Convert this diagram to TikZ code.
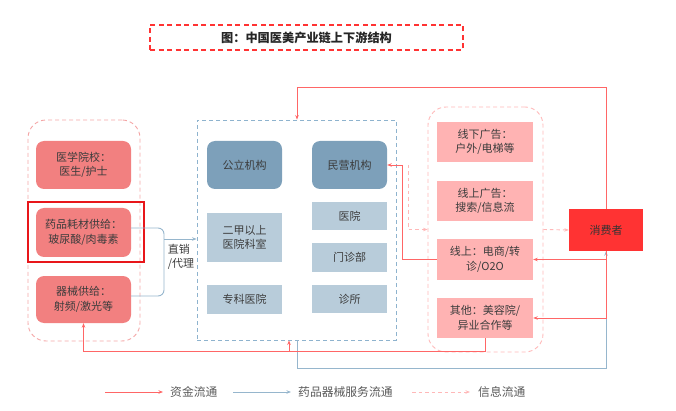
\documentclass[tikz,border=0pt]{standalone}
\usepackage{fontspec}
\setmainfont{Noto Sans CJK SC}
\usetikzlibrary{arrows.meta,calc}
\definecolor{lred}{RGB}{242,128,128}
\definecolor{lgrp}{RGB}{244,166,166}
\definecolor{hired}{RGB}{232,22,26}
\definecolor{dblue}{RGB}{125,160,186}
\definecolor{lblue}{RGB}{184,204,218}
\definecolor{bgrp}{RGB}{142,179,206}
\definecolor{rpink}{RGB}{255,179,179}
\definecolor{cons}{RGB}{255,51,51}
\definecolor{mline}{RGB}{255,102,102}
\definecolor{sline}{RGB}{150,182,205}
\definecolor{iline}{RGB}{255,184,184}
\definecolor{txt}{RGB}{60,60,60}
\definecolor{titred}{RGB}{255,51,51}
\begin{document}
\begin{tikzpicture}[x=1pt,y=-1pt,
  boxtxt/.style={font=\fontsize{11}{14.5}\selectfont, text=txt, align=center, inner sep=0pt},
  lbox/.style={boxtxt, fill=lred, rounded corners=8pt, minimum width=95pt},
  dbbox/.style={boxtxt, fill=dblue, rounded corners=8pt, minimum width=75pt, minimum height=48pt},
  lbbox/.style={boxtxt, fill=lblue, minimum width=75pt},
  rbox/.style={boxtxt, fill=rpink, minimum width=96pt},
  grp/.style={dashed, dash pattern=on 4pt off 3pt, line width=0.9pt, inner sep=0pt},
  tip/.style={-{Stealth[length=4.5pt,width=3.5pt]}},
  money/.style={draw=mline, line width=0.9pt},
  serv/.style={draw=sline, line width=0.9pt},
  info/.style={draw=iline, line width=0.9pt, dashed, dash pattern=on 3.5pt off 3pt},
  lgtxt/.style={font=\fontsize{11.8}{13}\selectfont, text=txt!85, anchor=west, inner sep=0pt}
]
\useasboundingbox (0,0) rectangle (676,411);

% title
\node[draw=titred, dashed, dash pattern=on 5pt off 3.5pt, line width=1.4pt, minimum width=313pt, minimum height=25pt, inner sep=0pt] (titlebox) at (306.5,37.5) {};
\node[font=\fontsize{12.2}{14}\selectfont\bfseries, text=black!85] (title) at (titlebox.center) {图：中国医美产业链上下游结构};

% left group
\node[grp, draw=lgrp, rounded corners=18pt, minimum width=112pt, minimum height=221pt] (lgroup) at (84,230.5) {};
\node[lbox, minimum height=48pt] (b1) at (83.5,165) {医学院校：\\医生/护士};
\node[lbox, minimum height=49pt] (b2) at (83.5,232.5) {药品耗材供给：\\玻尿酸/肉毒素};
\node[lbox, minimum height=47pt] (b3) at (83.5,299.5) {器械供给：\\射频/激光等};
\node[draw=hired, line width=2pt, minimum width=116pt, minimum height=60pt, inner sep=0pt] (hl) at (86,232) {};

% blue group
\node[grp, draw=bgrp, minimum width=199pt, minimum height=220pt] (bgroup) at (296.5,230) {};
\node[dbbox] (gongli) at (244.5,165) {公立机构};
\node[dbbox] (minying) at (349.5,165) {民营机构};
\node[lbbox, minimum height=49pt] (erjia) at (244.5,237.5) {二甲以上\\医院科室};
\node[lbbox, minimum height=29pt] (zhuanke) at (244.5,299.5) {专科医院};
\node[lbbox, minimum height=28pt] (yiyuan) at (349.5,216) {医院};
\node[lbbox, minimum height=29pt] (menzhen) at (349.5,257.5) {门诊部};
\node[lbbox, minimum height=28pt] (zhensuo) at (349.5,299) {诊所};

% right group
\node[grp, draw=iline, rounded corners=18pt, minimum width=115pt, minimum height=245pt] (rgroup) at (485.5,229.5) {};
\node[rbox, minimum height=40pt] (r1) at (485,142) {线下广告：\\户外/电梯等};
\node[rbox, minimum height=40pt] (r2) at (485,201) {线上广告：\\搜索/信息流};
\node[rbox, minimum height=41pt] (r3) at (485,259.5) {线上：电商/转\\诊/O2O};
\node[rbox, minimum height=40pt] (r4) at (485,318) {其他：美容院/\\异业合作等};

% consumer
\node[boxtxt, fill=cons, minimum width=74pt, minimum height=42pt, text=black!80] (consumer) at (606,230) {消费者};

% coordinates
\coordinate (topc) at (297,87);
\coordinate (j1) at (402,165);
\coordinate (j2) at (408,165);
\coordinate (botc) at (289,351);
\coordinate (blc) at (297,368);
\coordinate (br) at (164,239);

% service flow (blue)
\draw[serv, tip] (blc |- bgroup.south) -- (blc) -| (consumer.south);
\draw[serv, rounded corners=6pt] ($(b2.east)+(0,-4.5)$) -| (br);
\draw[serv, rounded corners=6pt] ($(b3.east)+(0,-3.5)$) -| (br);
\draw[serv, tip] (br) -- (br -| bgroup.west);
\node[font=\fontsize{11}{14.5}\selectfont, text=txt, align=left, inner sep=0pt] (zx) at (181,257) {直销\\/代理};

% money flow (red)
\draw[money, tip] (consumer.north) |- (topc) -- (topc |- bgroup.north);
\draw[money, tip] (consumer.south) |- (r3.east);
\draw[money, tip] (consumer.south) |- (r4.east);
\draw[money, tip] (r3.west) -| (j1) -- (minying.east);
\draw[money, tip] (r4.south) |- (b3.south |- botc) -- (b3.south);
\draw[money, tip] (botc) -- (botc |- bgroup.south);

% info flow (pink dashed)
\draw[info, tip] (j2) |- (rgroup.west);
\draw[info, tip] (rgroup.east) -- (consumer.west);

% legend
\coordinate (l1a) at (105,392); \coordinate (l1b) at (163,392);
\coordinate (l2a) at (233,392); \coordinate (l2b) at (291,392);
\coordinate (l3a) at (412,392); \coordinate (l3b) at (470,392);
\draw[money, tip] (l1a) -- (l1b);
\node[lgtxt] (lt1) at (170,392) {资金流通};
\draw[serv, tip] (l2a) -- (l2b);
\node[lgtxt] (lt2) at (298,392) {药品器械服务流通};
\draw[info, tip] (l3a) -- (l3b);
\node[lgtxt] (lt3) at (478,392) {信息流通};
\end{tikzpicture}
\end{document}
